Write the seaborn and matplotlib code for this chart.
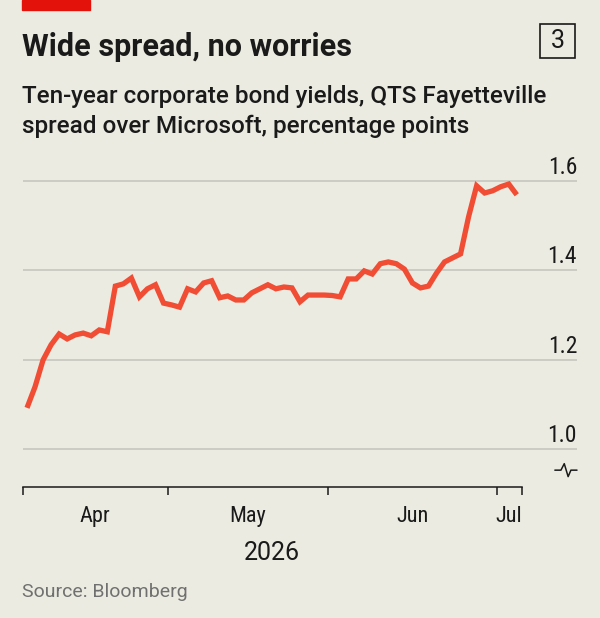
# QTS Fayetteville spread over Microsoft

import pandas as pd
import seaborn as sns
import matplotlib.pyplot as plt
from matplotlib.lines import Line2D
from matplotlib.patches import Rectangle
import matplotlib.transforms as mtransforms

# Data (trading sessions, spread in percentage points)
session = list(range(62))
spread = [1.093, 1.140, 1.200, 1.234, 1.258, 1.247, 1.256, 1.260, 1.254, 1.267,
          1.263, 1.365, 1.370, 1.383, 1.341, 1.359, 1.368, 1.327, 1.323, 1.318,
          1.359, 1.352, 1.372, 1.377, 1.339, 1.343, 1.334, 1.334, 1.350, 1.359,
          1.368, 1.359, 1.363, 1.361, 1.330, 1.345, 1.345, 1.345, 1.344, 1.341,
          1.381, 1.381, 1.399, 1.392, 1.415, 1.419, 1.415, 1.403, 1.372, 1.361,
          1.365, 1.394, 1.419, 1.428, 1.437, 1.520, 1.589, 1.573, 1.578, 1.587,
          1.593, 1.569]
month_edges = [-0.5, 17.5, 37.5, 58.5, 61.6]
month_labels = ["Apr", "May", "Jun", "Jul"]
y_ticks = [1.0, 1.2, 1.4, 1.6]
y_labels = ["1.0", "1.2", "1.4", "1.6"]

df = pd.DataFrame({"session": session, "spread": spread})

bg = "#ecebe2"
ink = "#1a1a1a"
sns.set_theme(style="white")
plt.rcParams["font.family"] = ["Roboto Condensed", "Roboto", "DejaVu Sans"]
wide = ["Roboto", "DejaVu Sans"]

fig = plt.figure(figsize=(6.0, 6.18), dpi=100, facecolor=bg)
ax = fig.add_axes([23 / 600, 1 - 487 / 618, 554 / 600, 324 / 618])
ax.set_facecolor(bg)

sns.lineplot(data=df, x="session", y="spread", ax=ax, color="#f04d34",
             linewidth=3.8, solid_joinstyle="miter", solid_capstyle="butt")

ax.set_xlim(-0.5, 68.5)
ax.set_ylim(0.9162, 1.64)
ax.set_xlabel("")
ax.set_ylabel("")

# y axis: labels on the right, sitting on the gridlines
ax.set_yticks(y_ticks)
ax.set_yticklabels(y_labels)
ax.yaxis.set_tick_params(left=False, right=False, labelleft=False,
                         labelright=True, length=0, pad=0,
                         labelsize=17, labelcolor=ink)
off = mtransforms.ScaledTranslation(0, 2 / 100, fig.dpi_scale_trans)
for lab in ax.get_yticklabels():
    lab.set_horizontalalignment("right")
    lab.set_verticalalignment("bottom")
    lab.set_transform(lab.get_transform() + off)
ax.grid(axis="y", color="#c3c3bb", linewidth=1.1)
ax.grid(axis="x", visible=False)

# x axis: ticks at month edges, labels mid-month
ax.set_xticks(month_edges)
ax.set_xticklabels([""] * len(month_edges))
mids = [(month_edges[i] + month_edges[i + 1]) / 2 for i in range(len(month_labels))]
ax.set_xticks(mids, minor=True)
ax.set_xticklabels(month_labels, minor=True)
ax.tick_params(axis="x", which="major", bottom=True, length=5.5, width=1.1,
               color=ink, direction="out")
ax.tick_params(axis="x", which="minor", bottom=True, length=0, pad=14,
               labelsize=16, labelcolor=ink)

for s in ["top", "left", "right"]:
    ax.spines[s].set_visible(False)
ax.spines["bottom"].set_color(ink)
ax.spines["bottom"].set_linewidth(1.1)
ax.spines["bottom"].set_bounds(month_edges[0], month_edges[-1])

# axis break symbol under the 1.0 line
ax.add_line(Line2D([0.960, 0.971, 0.977, 0.984, 0.989, 1.0],
                   [0.052, 0.052, 0.072, 0.032, 0.052, 0.052],
                   transform=ax.transAxes, color=ink, lw=1.1,
                   clip_on=False))

# header
fig.patches.append(Rectangle((22 / 600, 1 - 10 / 618), 68 / 600, 10 / 618,
                             transform=fig.transFigure, color="#e3120b"))
fig.text(22 / 600, 1 - 56 / 618, "Wide spread, no worries", fontsize=22,
         fontweight="bold", color=ink, va="baseline", family=wide)
fig.text(22 / 600, 1 - 102.7 / 618,
         "Ten-year corporate bond yields, QTS Fayetteville", fontsize=17.5,
         fontweight="medium", color=ink, va="baseline", family=wide)
fig.text(22 / 600, 1 - 133.5 / 618, "spread over Microsoft, percentage points",
         fontsize=17.5, fontweight="medium", color=ink, va="baseline",
         family=wide)
fig.patches.append(Rectangle((540 / 600, 1 - 58 / 618), 35 / 600, 34 / 618,
                             transform=fig.transFigure, fill=False,
                             edgecolor=ink, linewidth=1.2))
fig.text(557.5 / 600, 1 - 41 / 618, "3", fontsize=18, ha="center",
         va="center", color=ink, family=wide)

# footer
fig.text(272 / 600, 1 - 553.5 / 618, "2026", fontsize=18, ha="center",
         va="center", color=ink, family=wide)
fig.text(22 / 600, 1 - 592 / 618, "Source: Bloomberg", fontsize=14,
         va="center", color="#707070", family=wide)

fig.savefig("out.png", dpi=100, facecolor=bg)
